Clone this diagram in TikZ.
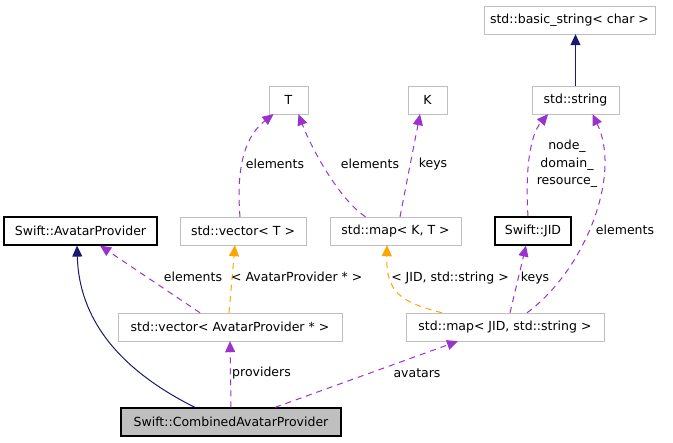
\documentclass[tikz,border=0pt]{standalone}
\usepackage{fontspec}
\setmainfont{DejaVu Sans}
\usetikzlibrary{arrows.meta}
\definecolor{edgegray}{HTML}{BFBFBF}
\definecolor{inhblue}{HTML}{191970}
\definecolor{usepurple}{HTML}{9A32CD}
\definecolor{tmplorange}{HTML}{FFA500}
\begin{document}
\begin{tikzpicture}[
    x=1pt, y=-1pt,
    every node/.style={font=\fontsize{12.5}{17.5}\selectfont},
    cls/.style={
        rectangle,
        draw=edgegray,
        minimum height=28pt,
        inner sep=0pt
    },
    doc/.style={cls, draw=black, line width=1.2pt},
    focus/.style={cls, draw=black, fill=edgegray, line width=1.2pt},
    inherit/.style={-{Triangle[length=11pt,width=10pt]}, inhblue, line width=1pt},
    usage/.style={-{Triangle[length=11pt,width=10pt]}, usepurple, line width=1pt, dash pattern=on 6pt off 5pt},
    templ/.style={-{Triangle[length=11pt,width=10pt]}, tmplorange, line width=1pt, dash pattern=on 6pt off 5pt}
]
\useasboundingbox (0,0) rectangle (673,443);

% classes
\node[focus, minimum width=220pt] (combined) at (231,422) {Swift::CombinedAvatarProvider};
\node[doc, minimum width=153pt] (provider) at (80.5,231) {Swift::AvatarProvider};
\node[cls, minimum width=224pt] (vecprov) at (230,327) {std::vector< AvatarProvider * >};
\node[cls, minimum width=198pt] (mapjid) at (505,327) {std::map< JID, std::string >};
\node[cls, minimum width=126pt] (vect) at (243,231) {std::vector< T >};
\node[cls, minimum width=131pt] (mapkt) at (395.5,231) {std::map< K, T >};
\node[doc, minimum width=76pt] (jid) at (533,231) {Swift::JID};
\node[cls, minimum width=39pt] (tpar) at (288.5,100) {T};
\node[cls, minimum width=39pt] (kpar) at (427.5,100) {K};
\node[cls, minimum width=87pt] (str) at (575.5,100) {std::string};
\node[cls, minimum width=171pt] (bstr) at (569.5,20) {std::basic\_string< char >};

% inheritance
\draw[inherit] ([xshift=-36pt]combined.north) .. controls (120,370) and (79,320) .. ([xshift=-3.5pt]provider.south);
\draw[inherit] (str.north) -- (bstr.south -| str.north);

% members
\draw[usage] (combined.north) -- (vecprov.south);
\draw[usage] ([xshift=44pt]combined.north) -- ([xshift=-47pt]mapjid.south);
\draw[usage] ([xshift=-30pt]vecprov.north) -- ([xshift=19.5pt]provider.south);
\draw[usage] ([xshift=-3pt]vect.north) .. controls (237,180) and (240,140) .. ([xshift=-15pt]tpar.south);
\draw[usage] ([xshift=-30pt]mapkt.north) .. controls (340,200) and (312,150) .. ([xshift=10pt]tpar.south);
\draw[usage] ([xshift=4.5pt]mapkt.north) -- ([xshift=-7.5pt]kpar.south);
\draw[usage] ([xshift=5pt]mapjid.north) -- ([xshift=-7pt]jid.south);
\draw[usage] ([xshift=22pt]mapjid.north) .. controls (585,270) and (622,175) .. ([xshift=17pt]str.south);
\draw[usage] ([xshift=-5pt]jid.north) .. controls (525,170) and (530,135) .. ([xshift=-27.5pt]str.south);

% template instances
\draw[templ] ([xshift=-1pt]vecprov.north) -- ([xshift=-8pt]vect.south);
\draw[templ] ([xshift=-63pt]mapjid.north) .. controls (400,302) and (386,292) .. ([xshift=-8.5pt]mapkt.south);

% labels
\node (l1) at (193,277) {elements};
\node[anchor=west, inner sep=0pt] (l2) at (231,277) {< AvatarProvider * >};
\node[anchor=west, inner sep=0pt] (l3) at (232,373) {providers};
\node (l4) at (417,373) {avatars};
\node (l5) at (275,164) {elements};
\node (l6) at (370,164) {elements};
\node (l7) at (433,164) {keys};
\node[align=center] (l8) at (567,164) {node\_\\domain\_\\resource\_};
\node (l9) at (625,230) {elements};
\node (l10) at (450,278) {< JID, std::string >};
\node (l11) at (535,278) {keys};

\end{tikzpicture}
\end{document}
